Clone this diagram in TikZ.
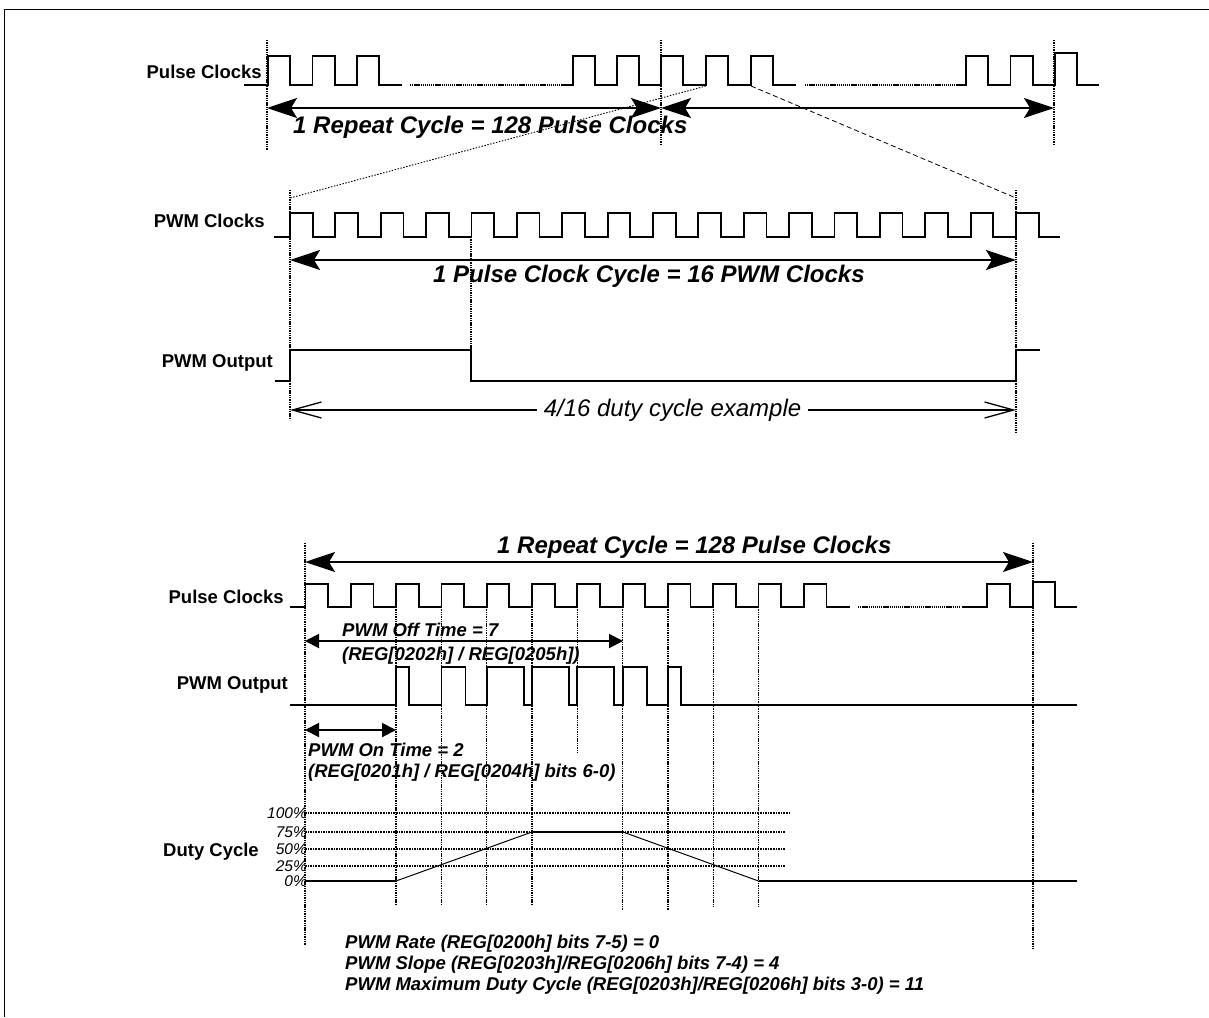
\documentclass[tikz,border=0pt]{standalone}
\usepackage{fontspec}
\setmainfont{Liberation Sans}
\usetikzlibrary{arrows.meta}
\begin{document}
\begin{tikzpicture}[x=1pt,y=-1pt]
  \tikzstyle{sig}=[line width=1.8pt,line join=miter]
  \tikzstyle{vguide}=[line width=1.4pt,dash pattern=on 1.4pt off 0.9pt]
  \tikzstyle{gapdots}=[line width=1.3pt,dash pattern=on 1.3pt off 0.8pt]
  \tikzstyle{gridln}=[line width=1.8pt,dash pattern=on 1.6pt off 1pt]
  \tikzstyle{lbl}=[font=\fontsize{18.5}{20}\selectfont\bfseries,inner sep=0pt,anchor=east]
  \tikzstyle{ttl}=[font=\fontsize{24}{26}\selectfont\bfseries\itshape,inner sep=0pt,anchor=base west]
  \tikzstyle{regnote}=[font=\fontsize{18.5}{21}\selectfont\bfseries\itshape,inner sep=0pt,anchor=base west]
  \tikzstyle{pct}=[font=\fontsize{15.5}{16}\selectfont\itshape,inner sep=0pt,anchor=east]
  \tikzstyle{bigspan}=[line width=2pt,{Stealth[length=30pt,width=20pt,inset=6pt]}-{Stealth[length=30pt,width=20pt,inset=6pt]}]
  \tikzstyle{smallspan}=[line width=2pt,{Triangle[length=14pt,width=14pt]}-{Triangle[length=14pt,width=14pt]}]
  \useasboundingbox (0,0) rectangle (1209,1017);
  \draw[line width=1pt] (4.5,1017) -- (4.5,9.5) -- (1209,9.5);

  % repeat cycle of pulse clocks
  \node[lbl] (pclkA) at (262,72) {Pulse Clocks};
  \draw[sig] (244,85) foreach \x in {268,312.5,357} {-- (\x,85) -- (\x,56) -- ++(22.3,0) -- ++(0,29)} -- (402,85);
  \draw[gapdots] (410,85) -- (565,85);
  \draw[sig] (565,85) foreach \x in {573,617,661,706,751} {-- (\x,85) -- (\x,56) -- ++(22.3,0) -- ++(0,29)} -- (796,85);
  \draw[gapdots] (805,85) -- (961,85);
  \draw[sig] (961,85) foreach \x in {966,1010.5} {-- (\x,85) -- (\x,56) -- ++(22.3,0) -- ++(0,29)}
    -- (1055,85) -- (1055,53) -- (1077,53) -- (1077,85) -- (1099,85);
  \draw[vguide] (267,40) -- (267,150);
  \draw[vguide] (661,40) -- (661,145);
  \draw[vguide] (1054,40) -- (1054,145);
  \coordinate (rA0) at (267,108);
  \coordinate (rA1) at (661,108);
  \coordinate (rA2) at (1054,108);
  \draw[bigspan] (rA0) -- (rA1);
  \draw[bigspan] (rA1) -- (rA2);
  \node[ttl] (repA) at (293,133) {1 Repeat Cycle = 128 Pulse Clocks};

  % zoom into one pulse clock
  \coordinate (zA) at (706,86);
  \coordinate (zB) at (751,86);
  \coordinate (zC) at (290,198);
  \coordinate (zD) at (1016,198);
  \draw[line width=0.9pt,dash pattern=on 1.5pt off 1.5pt] (zA) -- (zC);
  \draw[line width=0.8pt,dash pattern=on 5pt off 3pt] (zB) -- (zD);

  \node[lbl] (pwmclk) at (265,221) {PWM Clocks};
  \draw[sig] (274,237) foreach \k in {0,...,16} {-- ({290+45.375*\k},237) -- ++(0,-24) -- ++(22.7,0) -- ++(0,24)} -- (1060,237);
  \draw[vguide] (290,190) -- (290,420);
  \draw[vguide] (471,237) -- (471,350);
  \draw[vguide] (1016,190) -- (1016,433);
  \coordinate (cA) at (290,260);
  \coordinate (cB) at (1016,260);
  \draw[bigspan] (cA) -- (cB);
  \node[ttl] (cyc) at (433,282) {1 Pulse Clock Cycle = 16 PWM Clocks};

  \node[lbl] (outA) at (273,363) {PWM Output};
  \draw[sig] (275,381) -- (290,381) -- (290,350) -- (471,350) -- (471,381) -- (1016,381) -- (1016,350) -- (1040,350);
  \coordinate (eA) at (290,410);
  \coordinate (eB) at (1016,410);
  \node[font=\fontsize{24}{26}\selectfont\itshape,inner xsep=7pt,inner ysep=0pt] (ex) at (672.5,410) {4/16 duty cycle example};
  \draw[line width=1.3pt,-{Straight Barb[length=29pt,width=16pt]}] (ex) -- (eA);
  \draw[line width=1.3pt,-{Straight Barb[length=29pt,width=16pt]}] (ex) -- (eB);

  % pwm rate, slope and maximum duty cycle
  \draw[vguide] (305,543) -- (305,945);
  \draw[vguide] (1033,543) -- (1033,948);
  \coordinate (rB0) at (305,562);
  \coordinate (rB1) at (1033,562);
  \draw[bigspan] (rB0) -- (rB1);
  \node[ttl] (repB) at (497,553) {1 Repeat Cycle = 128 Pulse Clocks};

  \node[lbl] (pclkB) at (284,597) {Pulse Clocks};
  \draw[sig] (290,607) foreach \k in {0,...,11} {-- ({305.5+45.3*\k},607) -- ++(0,-23) -- ++(22.6,0) -- ++(0,23)} -- (850,607);
  \draw[gapdots] (858,607) -- (960,607);
  \draw[sig] (962,607) -- (987,607) -- (987,584) -- (1010,584) -- (1010,607) -- (1033,607) -- (1033,582) -- (1055,582) -- (1055,607) -- (1077,607);
  \foreach \k/\e in {2/905,3/905,4/905,5/905,6/752,7/910,8/910,9/907,10/907}
    \draw[vguide] ({305.5+45.3*\k},607) -- ({305.5+45.3*\k},\e);

  \coordinate (offA) at (305,641);
  \coordinate (offB) at (623,641);
  \draw[smallspan] (offA) -- (offB);
  \node[regnote] (offT) at (342,636) {PWM Off Time = 7};
  \node[regnote] (offR) at (342,660) {(REG[0202h] / REG[0205h])};

  \node[lbl] (outB) at (288,685) {PWM Output};
  \draw[sig] (290,705) foreach \k/\w in {2/13,3/24,4/37,5/37,6/37,7/24,8/13} {-- ({305.5+45.3*\k},705) -- ++(0,-38) -- ++(\w,0) -- ++(0,38)} -- (1077,705);

  \coordinate (onA) at (305,730);
  \coordinate (onB) at (396,730);
  \draw[smallspan] (onA) -- (onB);
  \node[regnote] (onT) at (308,756) {PWM On Time = 2};
  \node[regnote] (onR) at (308,777) {(REG[0201h] / REG[0204h] bits 6-0)};

  \node[lbl] (duty) at (259,852) {Duty Cycle};
  \foreach \v/\y/\e in {100/813/790,75/832/786,50/849/785,25/866/786} {
    \node[pct] (lev\v) at (307,\y) {\v\%};
    \draw[gridln] (305,\y) -- (\e,\y);
  }
  \node[pct] (lev0) at (307,881) {0\%};
  \draw[line width=2pt] (305,881) -- (396,881);
  \draw[line width=1pt] (396,881) -- (532,832);
  \draw[line width=2pt] (532,832) -- (623,832);
  \draw[line width=1pt] (623,832) -- (758.5,881);
  \draw[line width=2pt] (758.5,881) -- (1077,881);

  \node[regnote] (rate) at (345,948) {PWM Rate (REG[0200h] bits 7-5) = 0};
  \node[regnote] (slope) at (345,969) {PWM Slope (REG[0203h]/REG[0206h] bits 7-4) = 4};
  \node[regnote] (maxd) at (345,990) {PWM Maximum Duty Cycle (REG[0203h]/REG[0206h] bits 3-0) = 11};
\end{tikzpicture}
\end{document}
